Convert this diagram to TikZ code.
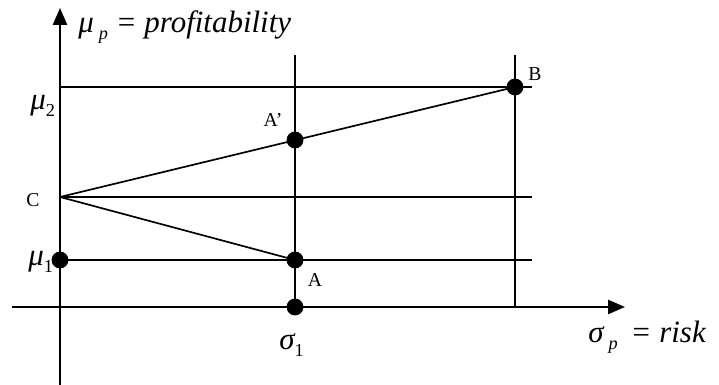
\documentclass[tikz,border=0pt]{standalone}
\usepackage{fontspec}
\setmainfont{Liberation Serif}
\usetikzlibrary{arrows.meta}
\newcommand{\lowsub}[1]{\raisebox{-.45ex}{\fontsize{13}{14}\selectfont #1}}

\begin{document}
\begin{tikzpicture}[x=.025cm,y=.025cm,
    axis/.style={line width=1.4pt, -{Triangle[length=12pt,width=10pt]}},
    rule/.style={line width=1.2pt},
    dot/.style={circle, fill=black, inner sep=0pt, minimum size=12pt},
    pointlabel/.style={font=\fontsize{14}{16}\selectfont},
    mathlabel/.style={font=\fontsize{22}{24}\selectfont\itshape, inner sep=0pt}]
  \useasboundingbox (0,0) rectangle (719,385);

  % axes
  \coordinate (ybot) at (60,0);
  \coordinate (ytop) at (60,377);
  \coordinate (xleft) at (12,78);
  \coordinate (xright) at (625,78);
  \draw[axis] (ybot) -- (ytop);
  \draw[axis] (xleft) -- (xright);

  % points
  \coordinate (C) at (60,188);
  \coordinate (B) at (515,298);
  \coordinate (Ap) at (295,245);
  \coordinate (A) at (295,125);
  \coordinate (M1) at (60,125);
  \coordinate (S1) at (295,78);

  % helper ends
  \coordinate (M2) at (60,298);
  \coordinate (M2end) at (532,298);
  \coordinate (Cend) at (532,188);
  \coordinate (M1end) at (532,125);
  \coordinate (Vtop) at (295,330);
  \coordinate (Wtop) at (515,330);
  \coordinate (Wbot) at (515,78);

  \draw[rule] (M2) -- (M2end);
  \draw[rule] (C) -- (Cend);
  \draw[rule] (M1) -- (M1end);
  \draw[rule] (Vtop) -- (S1);
  \draw[rule] (Wtop) -- (Wbot);
  \draw[rule] (C) -- (B);
  \draw[rule] (C) -- (A);

  \foreach \p in {B,Ap,A,M1,S1}
    \node[dot] at (\p) {};

  % labels
  \node[mathlabel, anchor=base west] (ylab) at (78,352)
    {μ\,\lowsub{p} = profitability};
  \node[mathlabel, anchor=base west] (mu2) at (30,275) {μ\lowsub{\upshape 2}};
  \node[mathlabel, anchor=base west] (mu1) at (28,119) {μ\lowsub{\upshape 1}};
  \node[mathlabel, anchor=base west] (sig1) at (279,35) {σ\lowsub{\upshape 1}};
  \node[mathlabel, anchor=base west] (xlab) at (588,42) {σ\,\lowsub{p} \,= risk};
  \node[pointlabel] (labC) at (33,185) {C};
  \node[pointlabel] (labA) at (315,105) {A};
  \node[pointlabel] (labAp) at (273,265) {A’};
  \node[pointlabel] (labB) at (535,311) {B};
\end{tikzpicture}
\end{document}
